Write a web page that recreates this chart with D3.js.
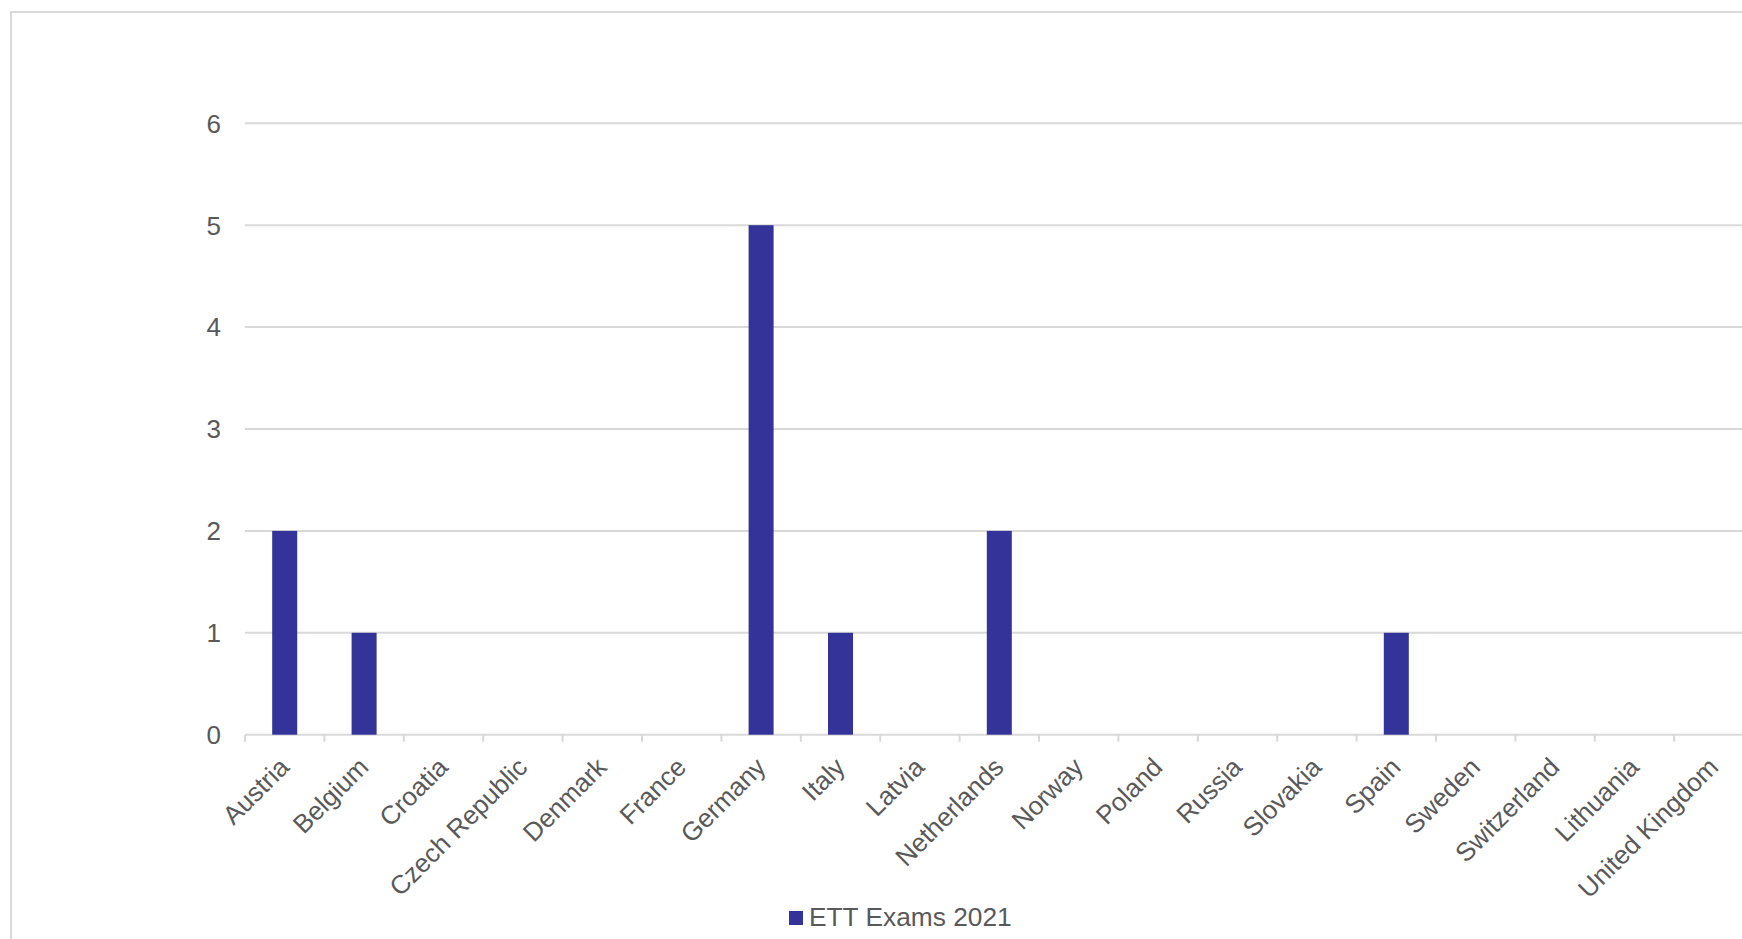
<!DOCTYPE html>
<html><head><meta charset="utf-8">
<script src="https://cdn.jsdelivr.net/npm/d3@7"></script>
<style>html,body{margin:0;padding:0;background:#fff;overflow:hidden}</style>
</head><body>
<svg id="c" width="1742" height="939"></svg>
<script>
const categories = ["Austria","Belgium","Croatia","Czech Republic","Denmark","France","Germany","Italy","Latvia","Netherlands","Norway","Poland","Russia","Slovakia","Spain","Sweden","Switzerland","Lithuania","United Kingdom"];
const values = [2,1,0,0,0,0,5,1,0,2,0,0,0,0,1,0,0,0,0];
const yTicks = [0,1,2,3,4,5,6];
const seriesName = "ETT Exams 2021";

(function(){
const svg = d3.select("#c");
const font = "'Liberation Sans', Arial, sans-serif";
const textColor = "#595959", gridColor = "#d9d9d9", barColor = "#333399";

svg.append("rect").attr("x",11).attr("y",12).attr("width",1800).attr("height",1000)
  .attr("fill","none").attr("stroke",gridColor).attr("stroke-width",2);

const plotLeft = 245, bandW = 79.4, plotTop = 123.3, plotBottom = 734.7;
const x = d3.scaleBand().domain(categories).range([plotLeft, plotLeft + bandW*categories.length]).paddingInner(0).paddingOuter(0);
const y = d3.scaleLinear().domain([0,6]).range([plotBottom, plotTop]);

svg.append("g").selectAll("line").data(yTicks).join("line")
  .attr("x1", plotLeft).attr("x2", 1800)
  .attr("y1", d=>y(d)).attr("y2", d=>y(d))
  .attr("stroke", gridColor).attr("stroke-width", 2);

svg.append("g").selectAll("text").data(yTicks).join("text")
  .attr("x", 221).attr("y", d=>y(d)).attr("dy","0.36em")
  .attr("text-anchor","end").attr("font-family",font).attr("font-size",26).attr("fill",textColor)
  .text(d=>d);

const bounds = categories.map(c=>x(c)).concat([x(categories[categories.length-1])+x.bandwidth()]);
svg.append("g").selectAll("line").data(bounds).join("line")
  .attr("x1", d=>d).attr("x2", d=>d).attr("y1", plotBottom).attr("y2", plotBottom+7)
  .attr("stroke", gridColor).attr("stroke-width", 2);

const barW = x.bandwidth()*0.315;
svg.append("g").selectAll("rect").data(categories.map((c,i)=>({c,v:values[i]})).filter(d=>d.v>0)).join("rect")
  .attr("x", d=>x(d.c)+x.bandwidth()/2-barW/2).attr("width", barW)
  .attr("y", d=>y(d.v)).attr("height", d=>y(0)-y(d.v))
  .attr("fill", barColor);

svg.append("g").selectAll("text").data(categories).join("text")
  .attr("transform", d=>`translate(${x(d)+x.bandwidth()/2+6},${plotBottom+34}) rotate(-45)`)
  .attr("text-anchor","end").attr("font-family",font).attr("font-size",26).attr("fill",textColor)
  .text(d=>d);

svg.append("rect").attr("x",789).attr("y",911).attr("width",14).attr("height",14).attr("fill",barColor);
svg.append("text").attr("x",809).attr("y",926).attr("font-family",font).attr("font-size",26.3).attr("fill",textColor).text(seriesName);
})();
</script>
</body></html>
